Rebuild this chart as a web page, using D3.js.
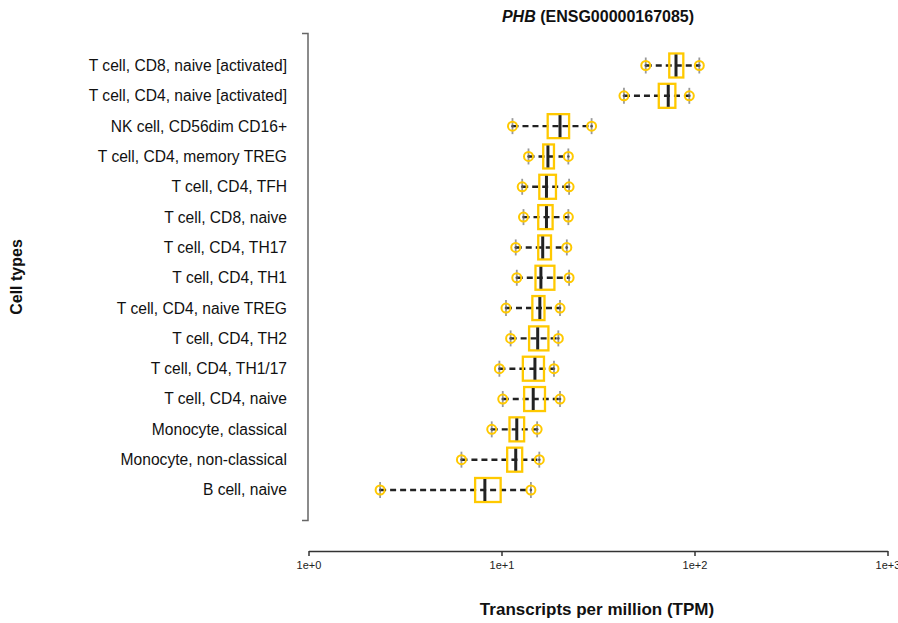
<!DOCTYPE html>
<html>
<head>
<meta charset="utf-8">
<script src="https://cdn.jsdelivr.net/npm/d3@7"></script>
<style>
  html, body { margin: 0; padding: 0; background: #fff; }
  svg { display: block; font-family: "Liberation Sans", Arial, Helvetica, sans-serif; }
</style>
</head>
<body>
<svg id="chart" width="898" height="623"></svg>
<script>
const cellTypes = [
  "T cell, CD8, naive [activated]",
  "T cell, CD4, naive [activated]",
  "NK cell, CD56dim CD16+",
  "T cell, CD4, memory TREG",
  "T cell, CD4, TFH",
  "T cell, CD8, naive",
  "T cell, CD4, TH17",
  "T cell, CD4, TH1",
  "T cell, CD4, naive TREG",
  "T cell, CD4, TH2",
  "T cell, CD4, TH1/17",
  "T cell, CD4, naive",
  "Monocyte, classical",
  "Monocyte, non-classical",
  "B cell, naive"
];
const minVals    = [55.9, 43.1, 11.4, 13.8, 12.8, 13.0, 11.85, 12.0, 10.55, 11.15, 9.75, 10.15, 8.9, 6.2, 2.35];
const q1Vals     = [74.0, 65.3, 17.35, 16.45, 15.7, 15.5, 15.5, 15.0, 14.45, 13.9, 12.9, 13.1, 11.0, 10.7, 7.3];
const medianVals = [80.2, 73.1, 20.1, 17.4, 17.1, 17.1, 16.35, 16.0, 15.8, 15.4, 14.9, 14.6, 12.0, 11.85, 8.2];
const q3Vals     = [87.5, 79.6, 22.4, 18.7, 19.15, 18.4, 18.05, 18.8, 16.7, 17.5, 16.6, 16.8, 13.1, 12.8, 9.9];
const maxVals    = [105.9, 94.0, 29.3, 22.2, 22.4, 22.2, 21.8, 22.4, 20.1, 19.7, 18.7, 20.1, 15.3, 15.7, 14.2];
const xTicks = [1, 10, 100, 1000];
const xTickLabels = ["1e+0", "1e+1", "1e+2", "1e+3"];
const geneSymbol = "PHB";
const geneId = " (ENSG00000167085)";
const xTitle = "Transcripts per million (TPM)";
const yTitle = "Cell types";

const rows = cellTypes.map((c, i) => ({
  cell: c, min: minVals[i], q1: q1Vals[i], med: medianVals[i], q3: q3Vals[i], max: maxVals[i]
}));

const svg = d3.select("#chart");
const x = d3.scaleLog().domain([1, 1000]).range([308.5, 887.5]);
const y = d3.scalePoint().domain(cellTypes).range([65.5, 490]);

const yellow = "#FFC900";
const boxH = 24;

// Title
const title = svg.append("text")
  .attr("x", 598).attr("y", 22)
  .attr("text-anchor", "middle")
  .attr("font-size", 16).attr("font-weight", "bold").attr("fill", "#111");
title.append("tspan").attr("font-style", "italic").text(geneSymbol);
title.append("tspan").text(geneId);

// Y axis (bracket only)
const yAxis = svg.append("g").attr("transform", "translate(308,0)");
yAxis.append("path")
  .attr("d", "M-6,33.5H0V520.5H-6")
  .attr("fill", "none").attr("stroke", "#666").attr("stroke-width", 1.5);
yAxis.selectAll("text.ylab").data(cellTypes).join("text")
  .attr("class", "ylab")
  .attr("x", -21).attr("y", d => y(d))
  .attr("dy", "0.35em")
  .attr("text-anchor", "end")
  .attr("font-size", 15.6).attr("fill", "#111")
  .text(d => d);

// X axis
const xAxisG = svg.append("g").attr("transform", "translate(0,551)")
  .call(d3.axisBottom(x).tickValues(xTicks).tickFormat((d, i) => xTickLabels[i]).tickSize(5).tickSizeOuter(0));
xAxisG.select(".domain").attr("stroke", "#333").attr("stroke-width", 1.5);
xAxisG.selectAll(".tick line").attr("stroke", "#333").attr("stroke-width", 1.5);
xAxisG.selectAll(".tick text").attr("font-size", 11).attr("fill", "#222").attr("dy", "0.95em")
  .attr("font-family", "\"Liberation Sans\", Arial, sans-serif");

// Axis titles
svg.append("text")
  .attr("x", 597).attr("y", 615)
  .attr("text-anchor", "middle")
  .attr("font-size", 17).attr("font-weight", "bold").attr("fill", "#111")
  .text(xTitle);
svg.append("text")
  .attr("transform", "translate(22,277) rotate(-90)")
  .attr("text-anchor", "middle")
  .attr("font-size", 16).attr("font-weight", "bold").attr("fill", "#111")
  .text(yTitle);

// Boxplots
const g = svg.append("g");
const row = g.selectAll("g.row").data(rows).join("g").attr("class", "row")
  .attr("transform", d => `translate(0,${y(d.cell)})`);

// grey sample ticks at whisker ends
row.selectAll("line.pt").data(d => [d.min, d.max]).join("line")
  .attr("class", "pt")
  .attr("x1", v => x(v)).attr("x2", v => x(v))
  .attr("y1", -8).attr("y2", 8)
  .attr("stroke", "#999").attr("stroke-width", 1.8);

// dashed whisker
row.append("line")
  .attr("x1", d => x(d.min)).attr("x2", d => x(d.max))
  .attr("y1", 0).attr("y2", 0)
  .attr("stroke", "#222").attr("stroke-width", 2.4)
  .attr("stroke-dasharray", "6,4");

// box
row.append("rect")
  .attr("x", d => x(d.q1)).attr("width", d => x(d.q3) - x(d.q1))
  .attr("y", -boxH / 2).attr("height", boxH)
  .attr("fill", "none").attr("stroke", yellow).attr("stroke-width", 2.3);

// median
row.append("line")
  .attr("x1", d => x(d.med)).attr("x2", d => x(d.med))
  .attr("y1", -boxH / 2 + 1).attr("y2", boxH / 2 - 1)
  .attr("stroke", "#222").attr("stroke-width", 3);

// min/max circles
row.selectAll("circle").data(d => [d.min, d.max]).join("circle")
  .attr("cx", v => x(v)).attr("cy", 0).attr("r", 4.5)
  .attr("fill", "none").attr("stroke", yellow).attr("stroke-width", 2);
row.selectAll("circle.dot").data(d => [d.min, d.max]).join("circle")
  .attr("class", "dot")
  .attr("cx", v => x(v)).attr("cy", 0).attr("r", 1.3)
  .attr("fill", "#555");
</script>
</body>
</html>
